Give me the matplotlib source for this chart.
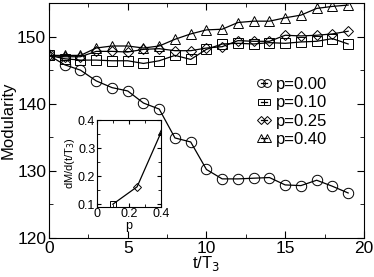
import matplotlib
matplotlib.use("Agg")
import matplotlib.pyplot as plt

plt.rcParams["font.family"] = ["Liberation Sans", "DejaVu Sans"]

t = list(range(20))
p000 = [147.2, 145.8, 145.0, 143.4, 142.4, 141.9, 140.1, 139.2, 134.9, 134.3,
        130.2, 128.8, 128.8, 128.9, 129.0, 127.9, 127.8, 128.6, 127.7, 126.7]
p010 = [147.2, 146.7, 146.5, 146.5, 146.4, 146.4, 146.0, 146.4, 147.2, 146.6,
        148.1, 148.9, 149.0, 148.9, 149.1, 149.0, 149.2, 149.3, 149.7, 148.9]
p025 = [147.2, 147.0, 147.0, 147.8, 147.8, 147.7, 148.1, 148.2, 147.9, 147.9,
        148.3, 148.5, 149.4, 149.3, 149.3, 150.2, 150.1, 150.2, 150.4, 150.8]
p040 = [147.2, 147.2, 147.2, 148.3, 148.6, 148.6, 148.3, 148.6, 149.6, 150.4,
        151.0, 151.1, 152.1, 152.3, 152.3, 152.8, 153.2, 154.2, 154.5, 154.7]
labels = ["p=0.00", "p=0.10", "p=0.25", "p=0.40"]
markers = ["o", "s", "D", "^"]
sizes = [7.5, 6.5, 5.5, 7]

inset_p = [0.10, 0.25, 0.40]
inset_slope = [0.10, 0.162, 0.358]

fig = plt.figure(figsize=(3.74, 2.77), dpi=100)
ax = fig.add_axes([0.131, 0.141, 0.842, 0.848])

for ys, m, s, lab in zip([p000, p010, p025, p040], markers, sizes, labels):
    ax.plot(t, ys, marker=m, color="black", lw=0.9, ms=s,
            mfc="none", mec="black", mew=0.7, label=lab)

ax.set_xlim(0, 20)
ax.set_ylim(120, 155)
ax.set_xticks([0, 5, 10, 15, 20])
ax.set_xticks([2.5, 7.5, 12.5, 17.5], minor=True)
ax.set_yticks([120, 130, 140, 150])
ax.set_yticks([125, 135, 145], minor=True)
ax.tick_params(which="both", direction="in", top=True, right=True, labelsize=12.5, pad=2)
ax.tick_params(which="major", length=5)
ax.tick_params(which="minor", length=3)
ax.set_xlabel("t/T$_3$", fontsize=12, labelpad=-1)
ax.set_ylabel("Modularity", fontsize=12, labelpad=1)
ax.legend(loc="upper left", bbox_to_anchor=(0.63, 0.72), frameon=False,
          numpoints=2, handlelength=1.0, handletextpad=0.2, labelspacing=0.2,
          fontsize=12, borderpad=0, markerscale=0.75)

ins = fig.add_axes([0.2586, 0.2527, 0.1727, 0.314])
ins.plot(inset_p, inset_slope, color="black", lw=0.9)
for x, y, m in zip(inset_p, inset_slope, markers[1:]):
    ins.plot([x], [y], marker=m, color="black", ms=4, mfc="none", mew=0.7)
ins.set_xlim(0, 0.4)
ins.set_ylim(0.09, 0.4)
ins.set_xticks([0, 0.2, 0.4])
ins.set_xticklabels(["0", "0.2", "0.4"])
ins.set_xticks([0.1, 0.3], minor=True)
ins.set_yticks([0.1, 0.2, 0.3, 0.4])
ins.set_yticks([0.15, 0.25, 0.35], minor=True)
ins.tick_params(which="both", direction="in", top=True, right=True, labelsize=9, pad=1)
ins.tick_params(which="major", length=3)
ins.tick_params(which="minor", length=2)
ins.set_xlabel("p", fontsize=9, labelpad=0)
ins.set_ylabel("dM/d(t/T$_3$)", fontsize=8, labelpad=1)

fig.savefig("out.png", dpi=100)
